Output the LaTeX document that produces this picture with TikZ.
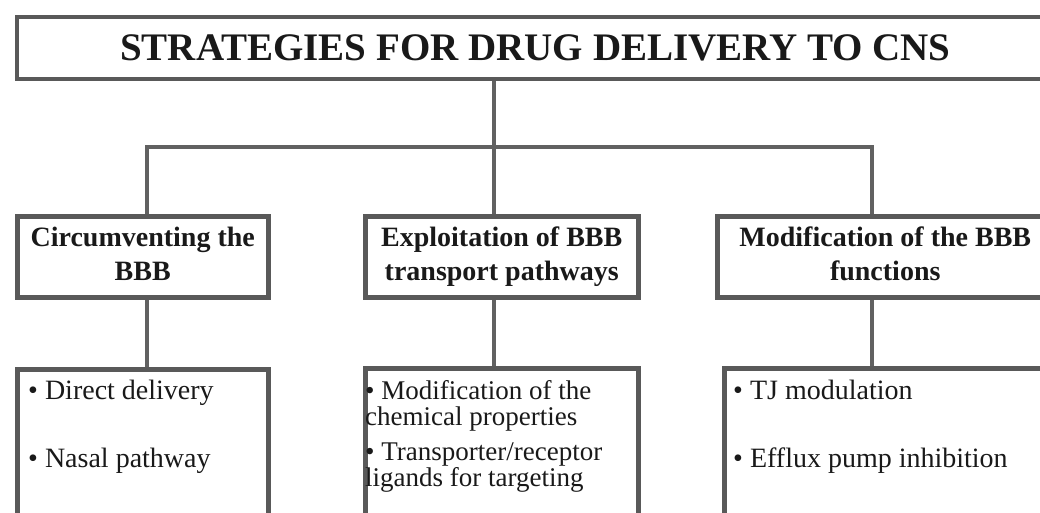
\documentclass[tikz,border=0pt]{standalone}
\usepackage{fontspec}
\setmainfont{Liberation Serif}
\begin{document}
\begin{tikzpicture}[x=1pt,y=-1pt,
	box/.style={draw=black!65,line width=4.5pt,inner sep=0pt,anchor=north west},
	head/.style={align=center,text=black!90,text depth=6pt,font=\fontsize{28}{34}\selectfont\bfseries},
	items/.style={align=left,inner sep=0pt,anchor=north west,text=black!90,
		font=\fontsize{28}{25}\selectfont},
	link/.style={draw=black!62,line width=3.2pt}]
	\clip (0,0) rectangle (1040,513);
	% title
	\node[box,minimum width=1037.5pt,minimum height=62pt,text=black!90,font=\fontsize{39}{39}\selectfont\bfseries] (title) at (14.5,15) {STRATEGIES FOR DRUG DELIVERY TO CNS};
	% second row
	\node[box,head,minimum width=251pt,minimum height=81pt] (circ) at (15,214) {Circumventing the\\BBB};
	\node[box,head,minimum width=273pt,minimum height=81pt] (expl) at (363,214) {Exploitation of BBB\\transport pathways};
	\node[box,head,minimum width=336pt,minimum height=81pt] (modf) at (715,214) {Modification of the BBB\\functions};
	% third row
	\node[box,minimum width=251pt,minimum height=200pt] (circlist) at (15,367) {};
	\node[box,minimum width=273pt,minimum height=200pt] (expllist) at (363,366) {};
	\node[box,minimum width=338pt,minimum height=200pt] (modflist) at (722,366) {};
	\node[items] (circtxt) at (28,379.9) {\textbullet\ Direct delivery\\[41pt]\textbullet\ Nasal pathway};
	\node[items,font=\fontsize{27}{26}\selectfont] (expltxt) at (365,380.6) {\textbullet\ Modification of the\\chemical properties\\[9pt]\textbullet\ Transporter/receptor\\ligands for targeting};
	\node[items] (modftxt) at (733,379.9) {\textbullet\ TJ modulation\\[43pt]\textbullet\ Efflux pump inhibition};
	% connectors
	\coordinate (jl) at (147,147);
	\coordinate (jm) at (494,147);
	\coordinate (jr) at (872,147);
	\draw[link] (title.south -| jm) -- (jm);
	\draw[link] (circ.north -| jl) -- (jl) -- (jr) -- (modf.north -| jr);
	\draw[link] (jm) -- (expl.north -| jm);
	\draw[link] (circ.south -| jl) -- (circlist.north -| jl);
	\draw[link] (expl.south -| jm) -- (expllist.north -| jm);
	\draw[link] (modf.south -| jr) -- (modflist.north -| jr);
\end{tikzpicture}
\end{document}
